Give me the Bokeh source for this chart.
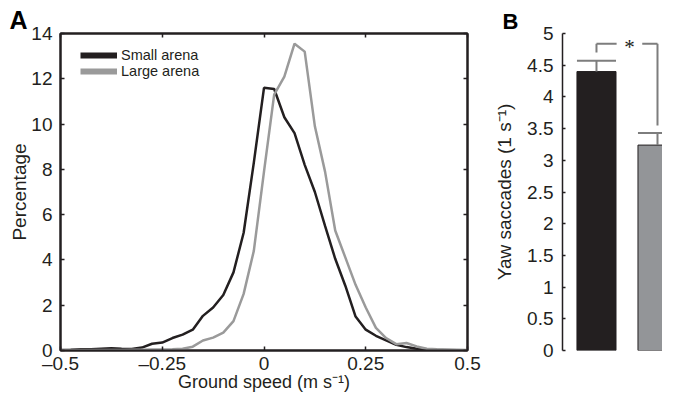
from bokeh.plotting import figure
from bokeh.layouts import row
from bokeh.models import (Range1d, LinearAxis, FixedTicker, CustomJSTickFormatter,
                          Legend, LegendItem, Title, ColumnDataSource)
from bokeh.embed import file_html
from bokeh.resources import INLINE

# ---------------- data ----------------
speed_bins = [-0.5, -0.475, -0.45, -0.425, -0.4, -0.375, -0.35, -0.325, -0.3, -0.275,
              -0.25, -0.225, -0.2, -0.175, -0.15, -0.125, -0.1, -0.075, -0.05, -0.025,
              0.0, 0.025, 0.05, 0.075, 0.1, 0.125, 0.15, 0.175, 0.2, 0.225,
              0.25, 0.275, 0.3, 0.325, 0.35, 0.375, 0.4, 0.425, 0.45, 0.475, 0.5]
small_arena = [0.02, 0.03, 0.05, 0.06, 0.08, 0.1, 0.08, 0.07, 0.13, 0.3,
               0.35, 0.55, 0.7, 0.92, 1.53, 1.9, 2.45, 3.45, 5.2, 8.3,
               11.6, 11.55, 10.3, 9.6, 8.2, 7.0, 5.5, 4.05, 2.85, 1.5,
               0.92, 0.65, 0.45, 0.25, 0.15, 0.08, 0.05, 0.03, 0.02, 0.01, 0.0]
large_arena = [0.01, 0.02, 0.02, 0.02, 0.02, 0.02, 0.02, 0.03, 0.03, 0.04,
               0.04, 0.05, 0.08, 0.17, 0.44, 0.57, 0.79, 1.3, 2.5, 4.4,
               7.9, 11.3, 12.1, 13.55, 13.2, 9.9, 7.9, 5.3, 4.1, 2.9,
               1.9, 1.0, 0.55, 0.28, 0.33, 0.18, 0.08, 0.05, 0.03, 0.03, 0.02]
series_names = ["Small arena", "Large arena"]
series_colors = ["#231f20", "#9a9a9a"]
x_ticks = [-0.5, -0.25, 0, 0.25, 0.5]
y_ticks_a = [0, 2, 4, 6, 8, 10, 12, 14]

bar_x = [1, 2]
bar_means = [4.40, 3.24]
bar_sem = [0.17, 0.19]
bar_colors = ["#231f20", "#939598"]
y_ticks_b = [0, 0.5, 1, 1.5, 2, 2.5, 3, 3.5, 4, 4.5, 5]
# significance bracket
bracket_top = 4.84
bracket_left_bottom = 4.70
bracket_right_bottom = 3.55
bracket_gap = [1.33, 1.75]
star_pos = [1.54, 4.79]
panel_labels = ["A", "B"]

FONT = "Liberation Sans"
INK = "#231f20"
GREY_LINE = "#7d7d7d"
BAR_W = 0.64

fmt = CustomJSTickFormatter(code="return tick.toString().replace('-', '\u2013');")
blank = CustomJSTickFormatter(code="return '';")

def style_axis(ax, ticks, labels=True):
    ax.ticker = FixedTicker(ticks=ticks)
    ax.minor_tick_line_color = None
    ax.major_tick_in = 4
    ax.major_tick_out = 0
    ax.major_tick_line_color = INK
    ax.major_tick_line_width = 1.5
    ax.axis_line_color = INK
    ax.axis_line_width = 2
    ax.major_label_text_font = FONT
    ax.major_label_text_font_size = "19px" if labels else "1px"
    ax.major_label_text_color = INK
    ax.axis_label_text_font = FONT
    ax.axis_label_text_font_style = "normal"
    ax.axis_label_text_font_size = "19px"
    ax.axis_label_text_color = INK
    ax.formatter = fmt if labels else blank

# ---------------- panel A ----------------
pA = figure(width=482, height=394, output_backend="svg", toolbar_location=None,
            x_range=Range1d(-0.5, 0.5), y_range=Range1d(0, 14),
            min_border_left=60, min_border_right=15, min_border_top=33, min_border_bottom=44,
            background_fill_color="white", border_fill_color="white")
pA.title = Title(text=panel_labels[0], align="left", offset=-51, standoff=0,
                 text_font=FONT, text_font_style="bold", text_font_size="25px",
                 text_color="black")
pA.xgrid.visible = False
pA.ygrid.visible = False
pA.outline_line_color = INK
pA.outline_line_width = 2

style_axis(pA.xaxis[0], x_ticks)
style_axis(pA.yaxis[0], y_ticks_a)
pA.xaxis.axis_label = "Ground speed (m s\u207b\u00b9)"
pA.yaxis.axis_label = "Percentage"
pA.xaxis.axis_label_text_font_size = "18px"
pA.xaxis.major_label_standoff = 2
pA.xaxis.axis_label_standoff = -5
pA.yaxis.major_label_standoff = 8
pA.yaxis.axis_label_standoff = -2

top_ax = LinearAxis()
style_axis(top_ax, x_ticks, labels=False)
top_ax.major_label_standoff = 0
pA.add_layout(top_ax, "above")
right_ax = LinearAxis()
style_axis(right_ax, y_ticks_a, labels=False)
right_ax.major_label_standoff = 0
pA.add_layout(right_ax, "right")

src = ColumnDataSource(dict(x=speed_bins, small=small_arena, large=large_arena))
pA.line("x", "small", source=src, line_color=series_colors[0], line_width=2.5)
pA.line("x", "large", source=src, line_color=series_colors[1], line_width=2.5)

# legend with thick swatches (hidden twin renderers, drawn only as legend glyphs)
items = []
for name, col, key in zip(series_names, series_colors, ["small", "large"]):
    r = pA.line("x", key, source=src, line_color=col, line_width=6, visible=False)
    items.append(LegendItem(label=name, renderers=[r]))
leg = Legend(items=items, location=(20, 271), padding=0, margin=0, spacing=0,
             glyph_width=37, glyph_height=16, label_height=16, label_standoff=4,
             label_text_font=FONT, label_text_font_size="14.5px", label_text_color=INK,
             border_line_color=None, background_fill_alpha=0,
             inactive_fill_alpha=0)
pA.add_layout(leg, "center")

# ---------------- panel B ----------------
pB = figure(width=180, height=394, output_backend="svg", toolbar_location=None,
            x_range=Range1d(0.443, 2.082), y_range=Range1d(0, 5),
            min_border_left=80, min_border_right=0, min_border_top=33, min_border_bottom=44,
            background_fill_color="white", border_fill_color="white")
pB.title = Title(text=panel_labels[1], align="left", offset=-60, standoff=0,
                 text_font=FONT, text_font_style="bold", text_font_size="22px",
                 text_color="black")
pB.xgrid.visible = False
pB.ygrid.visible = False
pB.outline_line_color = None
pB.xaxis.visible = False
style_axis(pB.yaxis[0], y_ticks_b)
pB.yaxis.major_tick_in = 3
pB.yaxis.axis_line_width = 1.5
pB.yaxis.axis_label = "Yaw saccades (1 s\u207b\u00b9)"
pB.yaxis.major_label_standoff = 9
pB.yaxis.axis_label_standoff = 9

bsrc = ColumnDataSource(dict(x=bar_x, top=bar_means, color=bar_colors,
                             hi=[m + s for m, s in zip(bar_means, bar_sem)],
                             x0=[x - BAR_W / 2 for x in bar_x],
                             x1=[x + BAR_W / 2 for x in bar_x]))
pB.vbar(x="x", top="top", width=BAR_W, fill_color="color", line_color=INK,
        line_width=1, source=bsrc)
pB.segment(x0="x", y0="top", x1="x", y1="hi", line_color=GREY_LINE, line_width=2, source=bsrc)
pB.segment(x0="x0", y0="hi", x1="x1", y1="hi", line_color=GREY_LINE, line_width=2, source=bsrc)

# significance bracket
pB.segment(x0=[bar_x[0], bar_x[0], bracket_gap[1], bar_x[1]],
           y0=[bracket_left_bottom, bracket_top, bracket_top, bracket_top],
           x1=[bar_x[0], bracket_gap[0], bar_x[1], bar_x[1]],
           y1=[bracket_top, bracket_top, bracket_top, bracket_right_bottom],
           line_color=GREY_LINE, line_width=2)
pB.text(x=[star_pos[0]], y=[star_pos[1]], text=["*"], text_font=FONT,
        text_font_size="21px", text_color=INK, text_align="center",
        text_baseline="alphabetic")

layout = row(pA, pB)
open("out.html", "w").write(file_html(layout, INLINE))
